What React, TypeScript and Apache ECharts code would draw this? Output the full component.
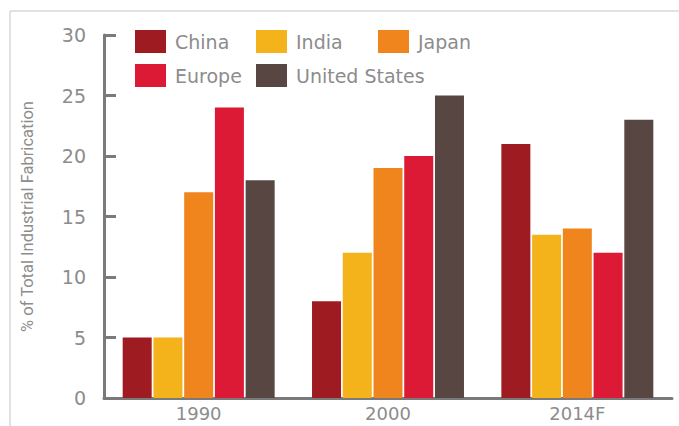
import React, { useEffect, useRef } from "react";
import * as echarts from "echarts";

// Share of total industrial fabrication by region (%)
const years = ["1990", "2000", "2014F"];
const china = [5, 8, 21];
const india = [5, 12, 13.5];
const japan = [17, 19, 14];
const europe = [24, 20, 12];
const unitedStates = [18, 25, 23];
const yTicks = [0, 5, 10, 15, 20, 25, 30];

const seriesDefs = [
  { name: "China", data: china, color: "#9E1B22" },
  { name: "India", data: india, color: "#F4B21B" },
  { name: "Japan", data: japan, color: "#F0851E" },
  { name: "Europe", data: europe, color: "#DC1A35" },
  { name: "United States", data: unitedStates, color: "#574641" },
];

const legendPos: Record<string, { left: number; top: number }> = {
  China: { left: 135, top: 30 },
  India: { left: 256, top: 30 },
  Japan: { left: 378, top: 30 },
  Europe: { left: 135, top: 64 },
  "United States": { left: 256, top: 64 },
};

const FONT = "'DejaVu Sans', sans-serif";
const TEXT = "#8c8c8c";

export default function App() {
  const ref = useRef<HTMLDivElement>(null);

  useEffect(() => {
    if (!ref.current) return;
    const chart = echarts.init(ref.current, undefined, { renderer: "svg" });
    chart.setOption({
      animation: false,
      backgroundColor: "#fff",
      graphic: [
        {
          type: "line",
          shape: { x1: 10, y1: 11, x2: 679, y2: 11 },
          style: { stroke: "#c4c4c4", lineWidth: 1 },
        },
        {
          type: "line",
          shape: { x1: 10, y1: 11, x2: 10, y2: 426 },
          style: { stroke: "#c4c4c4", lineWidth: 1 },
        },
      ],
      legend: seriesDefs.map((s) => ({
        data: [s.name],
        left: legendPos[s.name].left,
        top: legendPos[s.name].top,
        padding: 0,
        itemWidth: 31,
        itemHeight: 23,
        icon: "rect",
        selectedMode: false,
        textStyle: {
          color: TEXT,
          fontSize: 19,
          fontFamily: FONT,
          padding: [0, 0, 0, 4],
        },
      })),
      grid: { left: 104, right: 7, top: 35, bottom: 28 },
      xAxis: {
        type: "category",
        data: years,
        axisLine: { lineStyle: { color: "#7a7a7a", width: 3 } },
        axisTick: { show: false },
        axisLabel: {
          color: TEXT,
          fontSize: 18,
          lineHeight: 18,
          fontFamily: FONT,
          margin: 6,
        },
      },
      yAxis: {
        type: "value",
        min: yTicks[0],
        max: yTicks[yTicks.length - 1],
        interval: 5,
        name: "% of Total Industrial Fabrication",
        nameLocation: "middle",
        nameGap: 68,
        nameTextStyle: {
          color: TEXT,
          fontSize: 16.5,
          fontFamily: "'Liberation Sans Narrow', Roboto, sans-serif",
        },
        axisLine: { show: true, lineStyle: { color: "#7a7a7a", width: 3 } },
        axisTick: {
          show: true,
          inside: true,
          length: 12,
          lineStyle: { color: "#7a7a7a", width: 3 },
        },
        splitLine: { show: false },
        axisLabel: {
          color: TEXT,
          fontSize: 19,
          fontFamily: FONT,
          margin: 18,
        },
      },
      series: seriesDefs.map((s) => ({
        type: "bar",
        name: s.name,
        data: s.data,
        barWidth: 29,
        barGap: "6%",
        barCategoryGap: "20%",
        itemStyle: { color: s.color },
      })),
    });
    return () => chart.dispose();
  }, []);

  return (
    <div
      ref={ref}
      style={{ position: "fixed", left: 0, top: 0, width: 679, height: 426 }}
    />
  );
}
